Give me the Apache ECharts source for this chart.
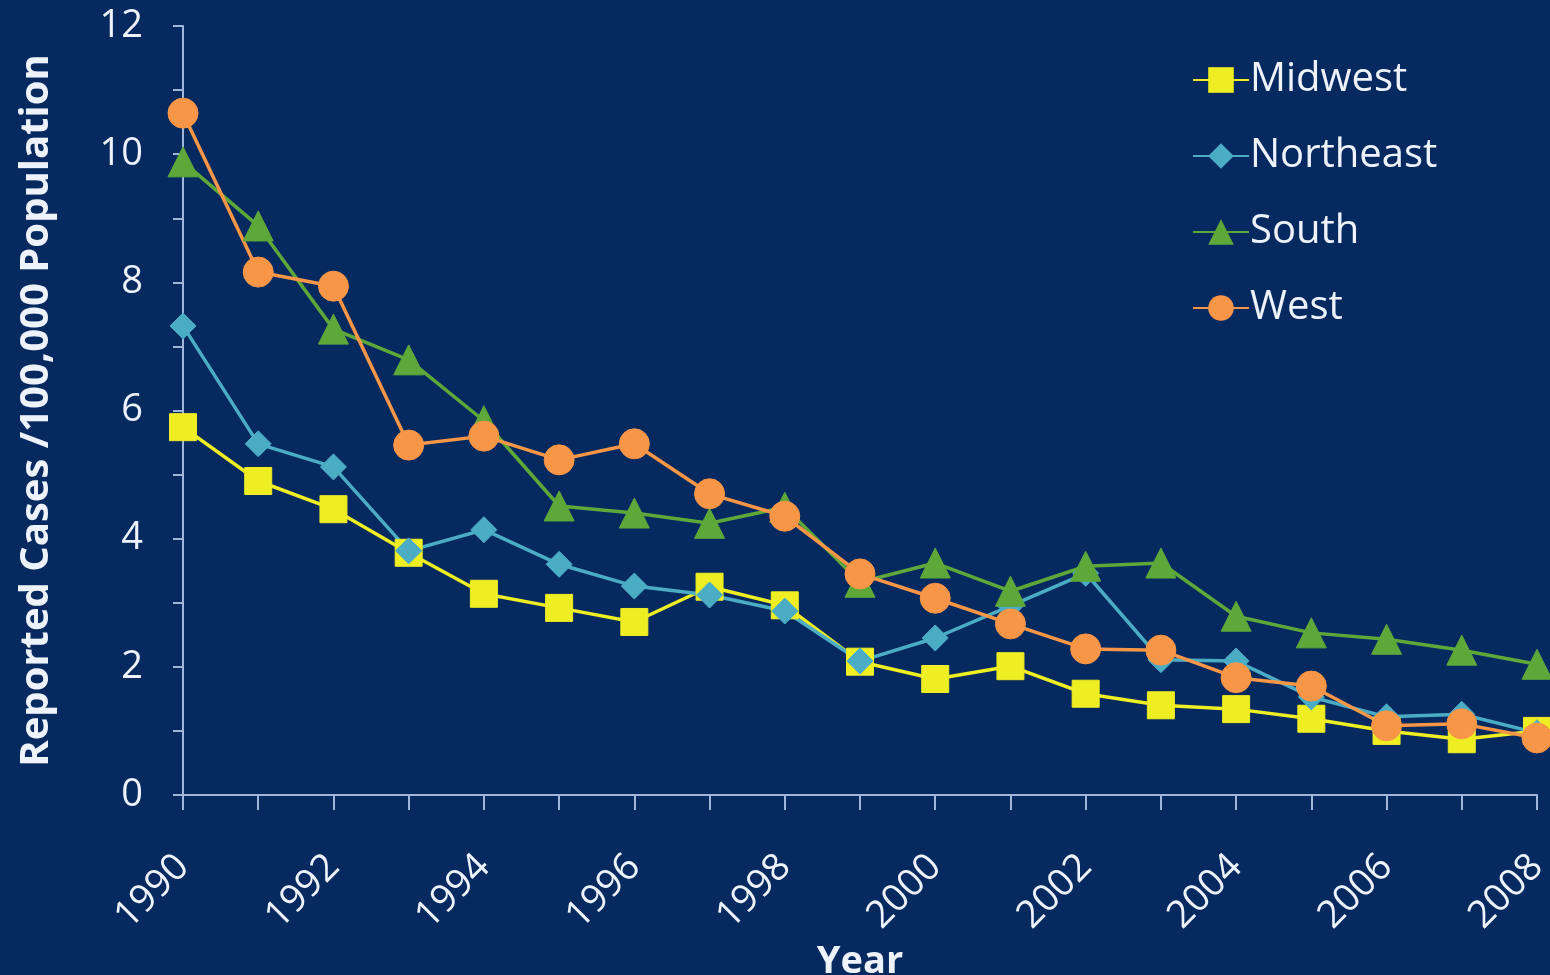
<!DOCTYPE html>
<html><head><meta charset="utf-8">
<script src="https://cdn.jsdelivr.net/npm/echarts@6/dist/echarts.min.js"></script>
<style>html,body{margin:0;padding:0;background:#062a5f;}#c{width:1550px;height:975px;}</style>
</head><body><div id="c"></div>
<script>
const years = ['1990','1991','1992','1993','1994','1995','1996','1997','1998','1999','2000','2001','2002','2003','2004','2005','2006','2007','2008'];
const midwest   = [5.74,4.90,4.46,3.78,3.14,2.92,2.70,3.25,2.96,2.08,1.81,2.01,1.58,1.40,1.34,1.19,1.00,0.87,1.00];
const northeast = [7.32,5.48,5.12,3.81,4.14,3.60,3.26,3.12,2.87,2.09,2.45,2.95,3.46,2.11,2.09,1.53,1.22,1.26,0.97];
const south     = [9.88,8.88,7.27,6.79,5.84,4.51,4.40,4.24,4.49,3.32,3.62,3.18,3.57,3.62,2.79,2.53,2.43,2.26,2.04];
const west      = [10.64,8.16,7.94,5.46,5.60,5.23,5.48,4.70,4.35,3.45,3.07,2.67,2.28,2.26,1.83,1.70,1.08,1.11,0.89];
const yTicks = [0,2,4,6,8,10,12];

const font = 'Open Sans';
const txt = '#eef3fb';
const axisCol = '#9fb7d9';
function mk(name, data, color, symbol, size){
  return {name, type:'line', data, symbol, symbolSize:size, clip:false,
    lineStyle:{color, width:3.5}, itemStyle:{color, borderColor:color},
    emphasis:{disabled:true}};
}
const chart = echarts.init(document.getElementById('c'));
chart.setOption({
  backgroundColor:'#062a5f',
  animation:false,
  grid:{left:183, right:13, top:26, bottom:180, containLabel:false, outerBoundsMode:'none'},
  legend:{orient:'vertical', left:1187, top:54, itemGap:34, itemWidth:56, itemHeight:32,
    textStyle:{color:txt, fontSize:40, lineHeight:42, fontFamily:font, padding:[0,0,0,-4]},
    data:['Midwest','Northeast','South','West']},
  xAxis:{type:'category', data:years, boundaryGap:false,
    name:'Year', nameLocation:'middle', nameGap:146,
    nameTextStyle:{color:txt, fontSize:38, fontWeight:'bold', fontFamily:font},
    axisLine:{lineStyle:{color:axisCol, width:2}},
    axisTick:{show:true, length:15, alignWithLabel:true, interval:0, lineStyle:{color:axisCol, width:2}},
    axisLabel:{interval:1, rotate:45, color:txt, fontSize:38, fontFamily:font, margin:66},
    splitLine:{show:false}},
  yAxis:{type:'value', min:0, max:12, interval:2,
    name:'Reported Cases /100,000 Population', nameLocation:'middle', nameGap:126,
    nameTextStyle:{color:txt, fontSize:40, fontWeight:'bold', fontFamily:font},
    axisLine:{show:true, lineStyle:{color:axisCol, width:2}},
    axisTick:{show:true, length:10, lineStyle:{color:axisCol, width:2}},
    minorTick:{show:true, splitNumber:2, length:10, lineStyle:{color:axisCol, width:2}},
    axisLabel:{color:txt, fontSize:38, fontFamily:font, margin:40,
      formatter:v=> yTicks.includes(v)? String(v):''},
    splitLine:{show:false}},
  series:[
    mk('Midwest', midwest, '#eeee22', 'rect', 27),
    mk('Northeast', northeast, '#4bacc6', 'diamond', 26),
    mk('South', south, '#5ea83a', 'triangle', 30),
    mk('West', west, '#f79646', 'circle', 30)
  ]
});
</script></body></html>
